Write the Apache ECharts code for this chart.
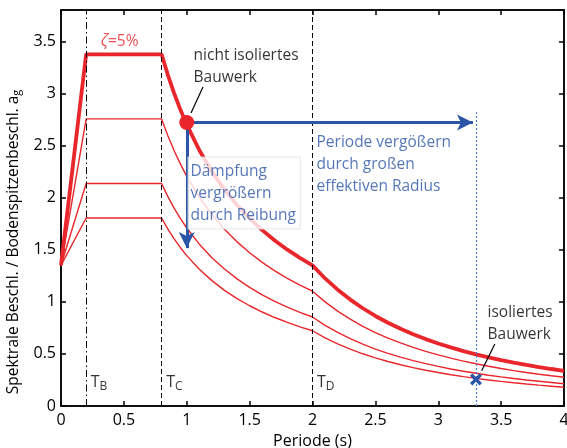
<!DOCTYPE html>
<html>
<head>
<meta charset="utf-8">
<script src="https://cdn.jsdelivr.net/npm/echarts@6/dist/echarts.min.js"></script>
<style>
  html, body { margin: 0; padding: 0; background: #fff; }
  #chart { width: 567px; height: 448px; }
</style>
</head>
<body>
<div id="chart"></div>
<script>
// Perioden (s) und Spektralwerte je Dämpfung (ζ = 5 %, 10 %, 20 %, 30 %)
const periods = [0, 0.2, 0.8, 0.85, 0.9, 0.95, 1.0, 1.1, 1.2, 1.3, 1.4, 1.5, 1.6, 1.7, 1.8, 1.9, 2.0,
  2.1, 2.2, 2.3, 2.4, 2.5, 2.6, 2.7, 2.8, 2.9, 3.0, 3.1, 3.2, 3.3, 3.4, 3.5, 3.6, 3.7, 3.8, 3.9, 4.0]
const sa5  = [1.35, 3.375, 3.375, 3.176, 3.0, 2.842, 2.7, 2.455, 2.25, 2.077, 1.929, 1.8, 1.688, 1.588, 1.5, 1.421, 1.35,
  1.224, 1.116, 1.021, 0.938, 0.864, 0.799, 0.741, 0.689, 0.642, 0.6, 0.562, 0.527, 0.496, 0.467, 0.441, 0.417, 0.394, 0.374, 0.355, 0.338]
const sa10 = [1.35, 2.755, 2.755, 2.593, 2.449, 2.321, 2.204, 2.004, 1.837, 1.696, 1.575, 1.47, 1.378, 1.297, 1.225, 1.16, 1.102,
  0.999, 0.911, 0.834, 0.765, 0.705, 0.652, 0.605, 0.562, 0.524, 0.49, 0.459, 0.431, 0.405, 0.381, 0.36, 0.34, 0.322, 0.305, 0.29, 0.276]
const sa20 = [1.35, 2.135, 2.135, 2.009, 1.897, 1.798, 1.708, 1.553, 1.423, 1.314, 1.22, 1.138, 1.067, 1.004, 0.949, 0.899, 0.854,
  0.774, 0.706, 0.646, 0.593, 0.546, 0.505, 0.469, 0.436, 0.406, 0.38, 0.355, 0.334, 0.314, 0.295, 0.279, 0.264, 0.249, 0.237, 0.225, 0.213]
const sa30 = [1.35, 1.804, 1.804, 1.698, 1.604, 1.519, 1.443, 1.312, 1.203, 1.11, 1.031, 0.962, 0.902, 0.849, 0.802, 0.76, 0.722,
  0.654, 0.596, 0.546, 0.501, 0.462, 0.427, 0.396, 0.368, 0.343, 0.321, 0.3, 0.282, 0.265, 0.25, 0.236, 0.223, 0.211, 0.2, 0.19, 0.18]

// Eckperioden T_B, T_C, T_D
const cornerPeriods = [0.2, 0.8, 2.0]
const cornerNames = ['B', 'C', 'D']

// nicht isoliertes / isoliertes Bauwerk
const fixedPoint = [1.0, 2.72]
const isolatedPoint = [3.3, 0.255]
const dampedTip = [1.0, 1.515]
const shiftedTip = [3.276, 2.72]

const FONT = 'Open Sans'
const RED = '#e8262b'
const BLUE = '#2b55a6'

const chart = echarts.init(document.getElementById('chart'))

function pairs(ys) {
  return periods.map((t, i) => [t, ys[i]])
}

function thinLine(name, ys) {
  return {
    name, type: 'line', data: pairs(ys), symbol: 'none', z: 3,
    lineStyle: { color: RED, width: 1.4 },
  }
}

function textItem(pos, text, color, extra) {
  return {
    value: pos,
    label: Object.assign({
      show: true, position: [0, 0], align: 'left', verticalAlign: 'top',
      formatter: text, color, fontFamily: FONT, fontSize: 15.5, lineHeight: 22,
    }, extra || {}),
  }
}

const axisCommon = {
  type: 'value',
  splitLine: { show: false },
  axisLine: { show: true, onZero: false, lineStyle: { color: '#000', width: 1.5 } },
  axisTick: { inside: true, length: 5, lineStyle: { color: '#000', width: 1.5 } },
}

chart.setOption({
  animation: false,
  grid: {
    left: 61, right: 3, top: 10, bottom: 42, outerBoundsMode: 'none',
    show: true, borderColor: '#000', borderWidth: 1.5,
  },
  xAxis: [
    Object.assign({}, axisCommon, {
      min: 0, max: 4, interval: 0.5,
      axisLabel: { color: '#000', fontFamily: FONT, fontSize: 16, margin: 6 },
      name: 'Periode (s)', nameLocation: 'middle', nameGap: 27,
      nameTextStyle: { color: '#000', fontFamily: FONT, fontSize: 16 },
    }),
    Object.assign({}, axisCommon, {
      position: 'top', min: 0, max: 4, interval: 0.5, axisLabel: { show: false },
    }),
  ],
  yAxis: [
    Object.assign({}, axisCommon, {
      min: 0, max: 3.8, interval: 0.5,
      axisLabel: { color: '#000', fontFamily: FONT, fontSize: 16, margin: 5, showMaxLabel: false },
      name: 'Spektrale Beschl. / Bodenspitzenbeschl. a{s|g}',
      nameLocation: 'middle', nameGap: 29, nameRotate: 90,
      nameTextStyle: {
        color: '#000', fontFamily: FONT, fontSize: 15.5, padding: [0, 68, 0, 0],
        rich: { s: { fontFamily: FONT, fontSize: 11, color: '#000', padding: [0, 0, -8, 0] } },
      },
    }),
    Object.assign({}, axisCommon, {
      position: 'right', min: 0, max: 3.8, interval: 0.5, axisLabel: { show: false },
    }),
  ],
  series: [
    thinLine('ζ=30%', sa30),
    thinLine('ζ=20%', sa20),
    thinLine('ζ=10%', sa10),
    {
      name: 'ζ=5%', type: 'line', data: pairs(sa5), symbol: 'none', z: 4,
      lineStyle: { color: RED, width: 3.8 },
      markLine: {
        silent: true, symbol: 'none', label: { show: false },
        data: cornerPeriods.map((t, i) => ({
          xAxis: t,
          lineStyle: { color: '#000', width: 1, type: i === 0 ? [7, 3, 1.5, 3] : [5, 3] },
        })),
      },
    },
    {
      // Pfeile und Hilfslinien
      name: 'arrows', type: 'line', data: [], z: 6,
      markLine: {
        silent: true, label: { show: false }, symbol: 'none',
        data: [
          [{ coord: fixedPoint, symbol: 'none' }, { coord: shiftedTip, symbol: 'arrow', symbolSize: [12, 16] }],
          [{ coord: fixedPoint, symbol: 'none' }, { coord: dampedTip, symbol: 'arrow', symbolSize: [12, 16] }],
        ],
        lineStyle: { color: BLUE, width: 3, type: 'solid' },
      },
    },
    {
      name: 'guides', type: 'line', data: [], z: 5,
      markLine: {
        silent: true, label: { show: false }, symbol: 'none',
        data: [
          [{ coord: [isolatedPoint[0], 0], lineStyle: { color: '#4a7fd0', width: 1.2, type: [2, 2] } }, { coord: [isolatedPoint[0], 2.82] }],
          [{ coord: [1.034, 2.812], lineStyle: { color: '#000', width: 1.2, type: 'solid' } }, { coord: [1.129, 3.06] }],
          [{ coord: [3.345, 0.339], lineStyle: { color: '#000', width: 1.2, type: 'solid' } }, { coord: [3.45, 0.595] }],
        ],
      },
    },
    {
      name: 'points', type: 'scatter', z: 8, silent: true,
      data: [
        { value: fixedPoint, symbol: 'circle', symbolSize: 15, itemStyle: { color: RED, opacity: 1 } },
        {
          value: isolatedPoint, symbolSize: 12, itemStyle: { color: BLUE, opacity: 1 },
          symbol: 'path://M2,0 L5,3 L8,0 L10,2 L7,5 L10,8 L8,10 L5,7 L2,10 L0,8 L3,5 L0,2 Z',
        },
      ],
    },
    {
      name: 'labels', type: 'scatter', z: 10, silent: true, symbolSize: 1,
      itemStyle: { color: 'rgba(0,0,0,0)' },
      data: [
        textItem([0.47, 3.49], '{i|ζ}=5%', RED, {
          align: 'center', verticalAlign: 'middle',
          rich: { i: { fontFamily: FONT, fontSize: 16, fontStyle: 'italic', color: RED } },
        }),
        textItem([1.058, 3.465], 'nicht isoliertes\nBauwerk', '#000'),
        textItem([1.018, 2.38], 'Dämpfung\nvergrößern\ndurch Reibung', BLUE, {
          backgroundColor: '#fff', borderColor: '#e4e4e4', borderWidth: 1, padding: [3, 4, 2, 2],
        }),
        textItem([2.036, 2.63], 'Periode vergößern\ndurch großen\neffektiven Radius', BLUE),
        textItem([3.396, 0.998], 'isoliertes\nBauwerk', '#000'),
      ].concat(cornerPeriods.map((t, i) => textItem([t + 0.04, 0.33], '{t|T}{s|' + cornerNames[i] + '}', '#000', {
        rich: {
          t: { fontFamily: FONT, fontSize: 16, color: '#000' },
          s: { fontFamily: FONT, fontSize: 12, color: '#000', padding: [8, 0, 0, 0] },
        },
      }))),
    },
  ],
})
</script>
</body>
</html>
